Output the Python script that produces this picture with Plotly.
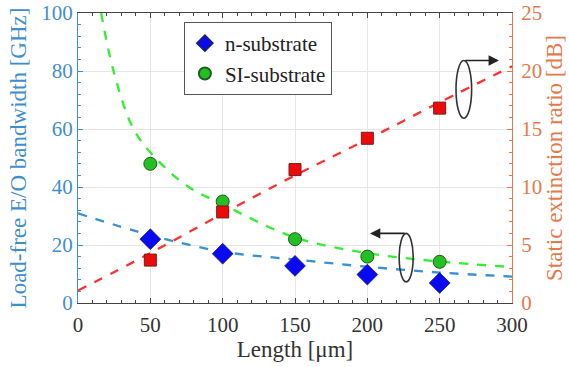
import plotly.graph_objects as go

# --- data ---
length = [50, 100, 150, 200, 250]
bw_n = [22, 17, 12.8, 9.8, 6.9]            # n-substrate bandwidth [GHz]
bw_si = [48, 35, 22, 16, 14.2]             # SI-substrate bandwidth [GHz]
er = [3.7, 7.85, 11.5, 14.2, 16.8]         # static extinction ratio [dB]

fit_n_x = [0, 50, 100, 150, 200, 250, 300]
fit_n_y = [30.9, 23.4, 17.7, 15.0, 12.5, 10.5, 9.1]
fit_si_x = [16, 24.4, 38, 51, 75, 100, 150, 200, 250, 300]
fit_si_y = [100, 80.3, 60.3, 51.4, 40.5, 34.0, 22.6, 17.2, 14.3, 12.4]
fit_er_x = [0, 50, 100, 150, 200, 250, 300]
fit_er_y = [1.07, 4.3, 7.7, 11.0, 14.1, 17.3, 20.4]

x_ticks = [0, 50, 100, 150, 200, 250, 300]
y1_ticks = [0, 20, 40, 60, 80, 100]
y2_ticks = [0, 5, 10, 15, 20, 25]

FONT = "Liberation Serif, Times New Roman, Times, serif"
BLUE_AX = "#3f8fcf"
ORANGE_AX = "#e5794a"

fig = go.Figure()

fig.add_trace(go.Scatter(x=fit_n_x, y=fit_n_y, mode="lines", line_shape="spline",
                         line=dict(color="#3a8fd6", width=2.3, dash="dash"), showlegend=False))
fig.add_trace(go.Scatter(x=fit_si_x, y=fit_si_y, mode="lines", line_shape="spline",
                         line=dict(color="#33ee33", width=2.3, dash="dash"), showlegend=False))
fig.add_trace(go.Scatter(x=fit_er_x, y=fit_er_y, mode="lines", line_shape="spline", yaxis="y2",
                         line=dict(color="#ff3030", width=2.3, dash="dash"), showlegend=False))

fig.add_trace(go.Scatter(x=length, y=bw_n, mode="markers", name="n-substrate",
                         marker=dict(symbol="diamond", size=16, color="#0a0af0",
                                     line=dict(color="#1a1a90", width=0.8))))
fig.add_trace(go.Scatter(x=length, y=bw_si, mode="markers", name="SI-substrate",
                         marker=dict(symbol="circle", size=13, color="#22c022",
                                     line=dict(color="#1e5e1e", width=1))))
fig.add_trace(go.Scatter(x=length, y=er, mode="markers", yaxis="y2", showlegend=False,
                         marker=dict(symbol="square", size=12, color="#ee0a0a",
                                     line=dict(color="#7a1a1a", width=1))))

# ellipses
fig.add_shape(type="circle", xref="x", yref="y", x0=261.3, x1=272.1, y0=63.7, y1=83.6,
              line=dict(color="#333333", width=1.6))
fig.add_shape(type="circle", xref="x", yref="y", x0=222.0, x1=231.7, y0=7.3, y1=24.0,
              line=dict(color="#333333", width=1.6))
# arrows
fig.add_annotation(x=291, y=83.6, ax=266.7, ay=83.6, xref="x", yref="y", axref="x", ayref="y",
                   text="", showarrow=True, arrowhead=2, arrowsize=1.3, arrowwidth=1.6,
                   arrowcolor="#222222")
fig.add_annotation(x=201.8, y=24.0, ax=226.8, ay=24.0, xref="x", yref="y", axref="x", ayref="y",
                   text="", showarrow=True, arrowhead=2, arrowsize=1.3, arrowwidth=1.6,
                   arrowcolor="#222222")

fig.update_layout(
    width=569, height=367,
    margin=dict(l=78, r=57, t=13, b=64, autoexpand=False),
    paper_bgcolor="white", plot_bgcolor="white",
    font=dict(family=FONT, size=21, color="#333333"),
    legend=dict(x=0.244, y=0.969, xanchor="left", yanchor="top",
                bgcolor="white", bordercolor="#555555", borderwidth=1,
                font=dict(family=FONT, size=21, color="#222222"),
                itemsizing="constant", tracegroupgap=0),
    xaxis=dict(range=[0, 300], tickvals=x_ticks, ticks="inside", ticklen=5, tickcolor="#444444",
               showline=True, linecolor="#444444", linewidth=1, mirror="ticks",
               showgrid=True, gridcolor="#e6e6e6", gridwidth=1, zeroline=False,
               automargin=False, ticklabelstandoff=3, ticklabeloverflow="allow",
               minor=dict(ticks="inside", dtick=10, ticklen=3, tickcolor="#444444", showgrid=False),
               tickfont=dict(family=FONT, size=21, color="#333333"),
               title=dict(text="Length [μm]", font=dict(family=FONT, size=23, color="#333333"),
                          standoff=3)),
    yaxis=dict(range=[0, 100], tickvals=y1_ticks, ticks="inside", ticklen=5, tickcolor=BLUE_AX,
               showline=True, linecolor=BLUE_AX, linewidth=1, automargin=False,
               ticklabelstandoff=0, ticklabeloverflow="allow",
               showgrid=True, gridcolor="#e6e6e6", gridwidth=1, zeroline=False,
               minor=dict(ticks="inside", dtick=4, ticklen=3, tickcolor=BLUE_AX, showgrid=False),
               tickfont=dict(family=FONT, size=21, color=BLUE_AX),
               title=dict(text="Load-free E/O bandwidth [GHz]",
                          font=dict(family=FONT, size=23, color=BLUE_AX), standoff=8)),
    yaxis2=dict(range=[0, 25], tickvals=y2_ticks, overlaying="y", side="right",
                ticks="inside", ticklen=5, tickcolor=ORANGE_AX, automargin=False,
                ticklabelstandoff=4, ticklabeloverflow="allow",
                showline=True, linecolor=ORANGE_AX, linewidth=1,
                showgrid=False, zeroline=False,
                minor=dict(ticks="inside", dtick=1, ticklen=3, tickcolor=ORANGE_AX, showgrid=False),
                tickfont=dict(family=FONT, size=21, color=ORANGE_AX),
                title=dict(text="Static extinction ratio [dB]",
                           font=dict(family=FONT, size=23, color=ORANGE_AX), standoff=3)),
)

fig.write_html("out.html", config={"displayModeBar": False},
               post_script="document.body.style.margin='0';document.body.style.overflow='hidden';")
